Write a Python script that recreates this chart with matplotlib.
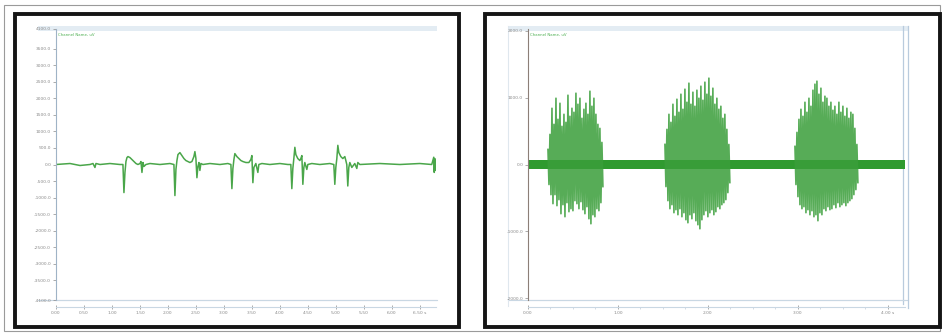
import numpy as np
import matplotlib.pyplot as plt
from matplotlib.patches import Rectangle

W, H = 944, 333

# --- left recording: single-channel trace (time in s, amplitude in uV)
left_t = [0.000, 0.250, 0.429, 0.607, 0.661, 0.696, 0.714, 0.786, 0.964, 1.143,
          1.196, 1.214, 1.232, 1.250, 1.268, 1.286, 1.321, 1.357, 1.393, 1.429,
          1.464, 1.500, 1.518, 1.536, 1.554, 1.571, 1.607, 1.679, 1.857, 2.036,
          2.107, 2.125, 2.143, 2.161, 2.179, 2.214, 2.250, 2.286, 2.321, 2.357,
          2.393, 2.429, 2.464, 2.482, 2.500, 2.518, 2.536, 2.554, 2.571, 2.589,
          2.625, 2.750, 2.929, 3.071, 3.125, 3.143, 3.161, 3.179, 3.196, 3.232,
          3.268, 3.304, 3.339, 3.393, 3.446, 3.482, 3.500, 3.518, 3.536, 3.571,
          3.607, 3.625, 3.679, 3.821, 4.000, 4.143, 4.196, 4.214, 4.232, 4.250,
          4.268, 4.286, 4.321, 4.357, 4.375, 4.393, 4.411, 4.429, 4.446, 4.482,
          4.500, 4.571, 4.714, 4.893, 4.964, 4.982, 5.000, 5.018, 5.036, 5.054,
          5.089, 5.125, 5.161, 5.179, 5.196, 5.214, 5.232, 5.250, 5.286, 5.339,
          5.375, 5.393, 5.429, 5.786, 6.143, 6.500, 6.714, 6.750, 6.759, 6.768,
          6.777, 6.786]
left_v = [0, 30, -30, 0, 30, -90, 30, 0, 30, 0,
          0, -850, -240, 90, 210, 240, 210, 150, 90, 30,
          0, 30, 90, -240, 60, -60, 0, 30, 0, 30,
          0, -940, -150, 120, 300, 360, 270, 180, 120, 90,
          60, 90, 240, 390, 180, -400, -60, 60, -180, 30,
          0, 30, 0, 30, 0, -730, -120, 150, 330, 240,
          180, 120, 90, 60, 60, 150, 270, -550, -90, 30,
          -240, 0, 30, 0, 30, 0, 0, -730, -120, 180,
          520, 300, 180, 120, 180, 270, -600, -90, 60, -150,
          0, 30, 0, 30, 0, -600, -90, 180, 580, 360,
          240, 180, 240, 120, 0, -650, -90, 60, -90, 30,
          -120, 60, 0, 30, 0, 30, 0, 220, -240, 180,
          -180, 0]
left_yticks = [-3500, -3000, -2500, -2000, -1500, -1000, -500, 0,
               500, 1000, 1500, 2000, 2500, 3000, 3500]
left_ylim = 4100.0
left_xticks = [0.0, 0.5, 1.0, 1.5, 2.0, 2.5, 3.0, 3.5, 4.0, 4.5, 5.0, 5.5, 6.0, 6.5]
left_xlim = 6.79

# --- right recording: three bursts, max/min per 2-sample bin
right_noise = 65.0
right_xlim = 4.19
right_ylim = 2025.0
right_yticks = [-2000, -1000, 0, 1000, 2000]
right_xticks = [0, 1, 2, 3, 4]
bin_dt = 0.0222

b1_start = 0.222
b1_hi = [225, 450, 840, 600, 990, 675, 915, 570, 750, 630, 1035, 720, 840, 780,
         1065, 900, 990, 690, 825, 915, 750, 1095, 870, 990, 750, 600, 540, 330]
b1_lo = [-300, -450, -585, -450, -615, -525, -735, -600, -780, -570, -705, -660,
         -690, -540, -585, -660, -555, -675, -735, -630, -810, -885, -750, -780,
         -660, -690, -570, -330]

b2_start = 1.522
b2_hi = [300, 525, 750, 630, 900, 720, 975, 780, 1050, 825, 1125, 930, 1215, 900,
         1080, 870, 1110, 990, 1170, 960, 1230, 1050, 1290, 1020, 1140, 900, 990,
         825, 870, 690, 750, 525, 300]
b2_lo = [-330, -540, -660, -600, -720, -675, -750, -660, -780, -720, -825, -870,
         -750, -810, -720, -840, -900, -960, -825, -750, -690, -780, -720, -675,
         -750, -705, -630, -660, -600, -570, -525, -420, -270]

b3_start = 2.967
b3_hi = [270, 480, 675, 825, 720, 930, 780, 990, 870, 1110, 1200, 1245, 1050, 1140,
         930, 1020, 990, 870, 930, 810, 870, 750, 930, 780, 870, 720, 840, 690, 780,
         750, 540, 300]
b3_lo = [-300, -480, -600, -660, -630, -720, -675, -750, -690, -780, -750, -840,
         -720, -750, -660, -690, -630, -675, -660, -600, -645, -570, -630, -600,
         -570, -615, -570, -540, -510, -450, -375, -270]

bursts = [(b1_start, b1_hi, b1_lo), (b2_start, b2_hi, b2_lo), (b3_start, b3_hi, b3_lo)]

FRAME = '#c9d7e3'
TICK = '#8a8a8a'


def box(x0, y0, x1, y1):
    return [x0 / W, 1 - y1 / H, (x1 - x0) / W, (y1 - y0) / H]


def style_axes(ax, left_color):
    for side in ['top', 'right']:
        ax.spines[side].set_visible(False)
    ax.spines['left'].set_color(left_color)
    ax.spines['left'].set_linewidth(0.8)
    ax.spines['bottom'].set_color(FRAME)
    ax.spines['bottom'].set_linewidth(0.8)
    ax.spines['bottom'].set_position(('outward', 5))
    ax.plot([0, 1], [0, 0], transform=ax.transAxes, color=FRAME, lw=0.8, clip_on=False)
    ax.tick_params(axis='both', labelsize=3.2, colors=TICK, length=2, width=0.5, pad=1.5)
    ax.tick_params(axis='x', direction='inout', length=3)
    ax.set_facecolor('none')


def fmt_ticks(vals, dec, unit):
    labels = [f'{v:.{dec}f}' for v in vals]
    labels[-1] = labels[-1] + ' ' + unit
    return labels


fig = plt.figure(figsize=(W / 100, H / 100), dpi=100)

# page decoration: outer border, black panel frames, light chart frames
bg = fig.add_axes([0, 0, 1, 1])
bg.set_xlim(0, W)
bg.set_ylim(H, 0)
bg.axis('off')
bg.add_patch(Rectangle((4, 5), 936, 326, fill=False, ec='#9a9a9a', lw=0.8))
bg.add_patch(Rectangle((14.5, 13.5), 444, 313, fill=False, ec='#151515', lw=2.8))
bg.add_patch(Rectangle((485, 13.5), 455, 313, fill=False, ec='#151515', lw=2.8))
for x0, x1 in [(38, 437), (508, 908)]:
    bg.add_patch(Rectangle((x0, 26), x1 - x0, 5, fc='#e3ecf3', ec='none'))
    bg.plot([x0, x1], [300, 300], color=FRAME, lw=0.8)
bg.plot([508, 508], [26, 306], color='#dfe7ee', lw=0.8)
bg.plot([903, 903], [26, 304], color='#b9cbdd', lw=0.9)
bg.plot([908, 908], [26, 308], color='#b9cbdd', lw=0.9)

# left chart
ax1 = fig.add_axes(box(56, 29, 436, 300))
ax1.plot(left_t, left_v, color='#4aa64a', lw=1.1, solid_joinstyle='round')
ax1.set_xlim(0, left_xlim)
ax1.set_ylim(-left_ylim, left_ylim)
yt = [-left_ylim] + left_yticks + [left_ylim]
ax1.set_yticks(yt)
ax1.set_yticklabels([f'{v:.1f}' for v in yt])
ax1.set_xticks(left_xticks)
ax1.set_xticklabels(fmt_ticks(left_xticks, 2, 's'))
style_axes(ax1, '#9fb3c6')
ax1.text(0.006, 0.985, 'Channel Name, uV', transform=ax1.transAxes,
         fontsize=2.8, color='#4caf50', va='top')

# right chart
ax2 = fig.add_axes(box(528, 29, 905, 300))
ax2.fill_between([0, right_xlim], -right_noise, right_noise, color='#2f9a2f', lw=0)
for start, hi, lo in bursts:
    t = start + bin_dt * np.arange(len(hi))
    xs = np.column_stack([t, t + bin_dt / 2]).ravel()
    ys = np.column_stack([hi, lo]).ravel()
    ax2.plot(xs, ys, color='#3a9e3a', lw=1.2, alpha=0.85)
ax2.set_xlim(0, right_xlim)
ax2.set_ylim(-right_ylim, right_ylim)
ax2.set_yticks(right_yticks)
ax2.set_yticklabels([f'{v:.1f}' for v in right_yticks])
ax2.set_xticks(right_xticks)
ax2.set_xticklabels(fmt_ticks(right_xticks, 2, 's'))
ax2.set_xticks(np.arange(0, right_xlim, 0.25), minor=True)
style_axes(ax2, '#8c7f78')
ax2.tick_params(axis='x', which='minor', length=1.5, width=0.4, colors='#b0c0d0')
ax2.text(0.006, 0.985, 'Channel Name, uV', transform=ax2.transAxes,
         fontsize=2.8, color='#4caf50', va='top')

fig.savefig('out.png', dpi=100)
